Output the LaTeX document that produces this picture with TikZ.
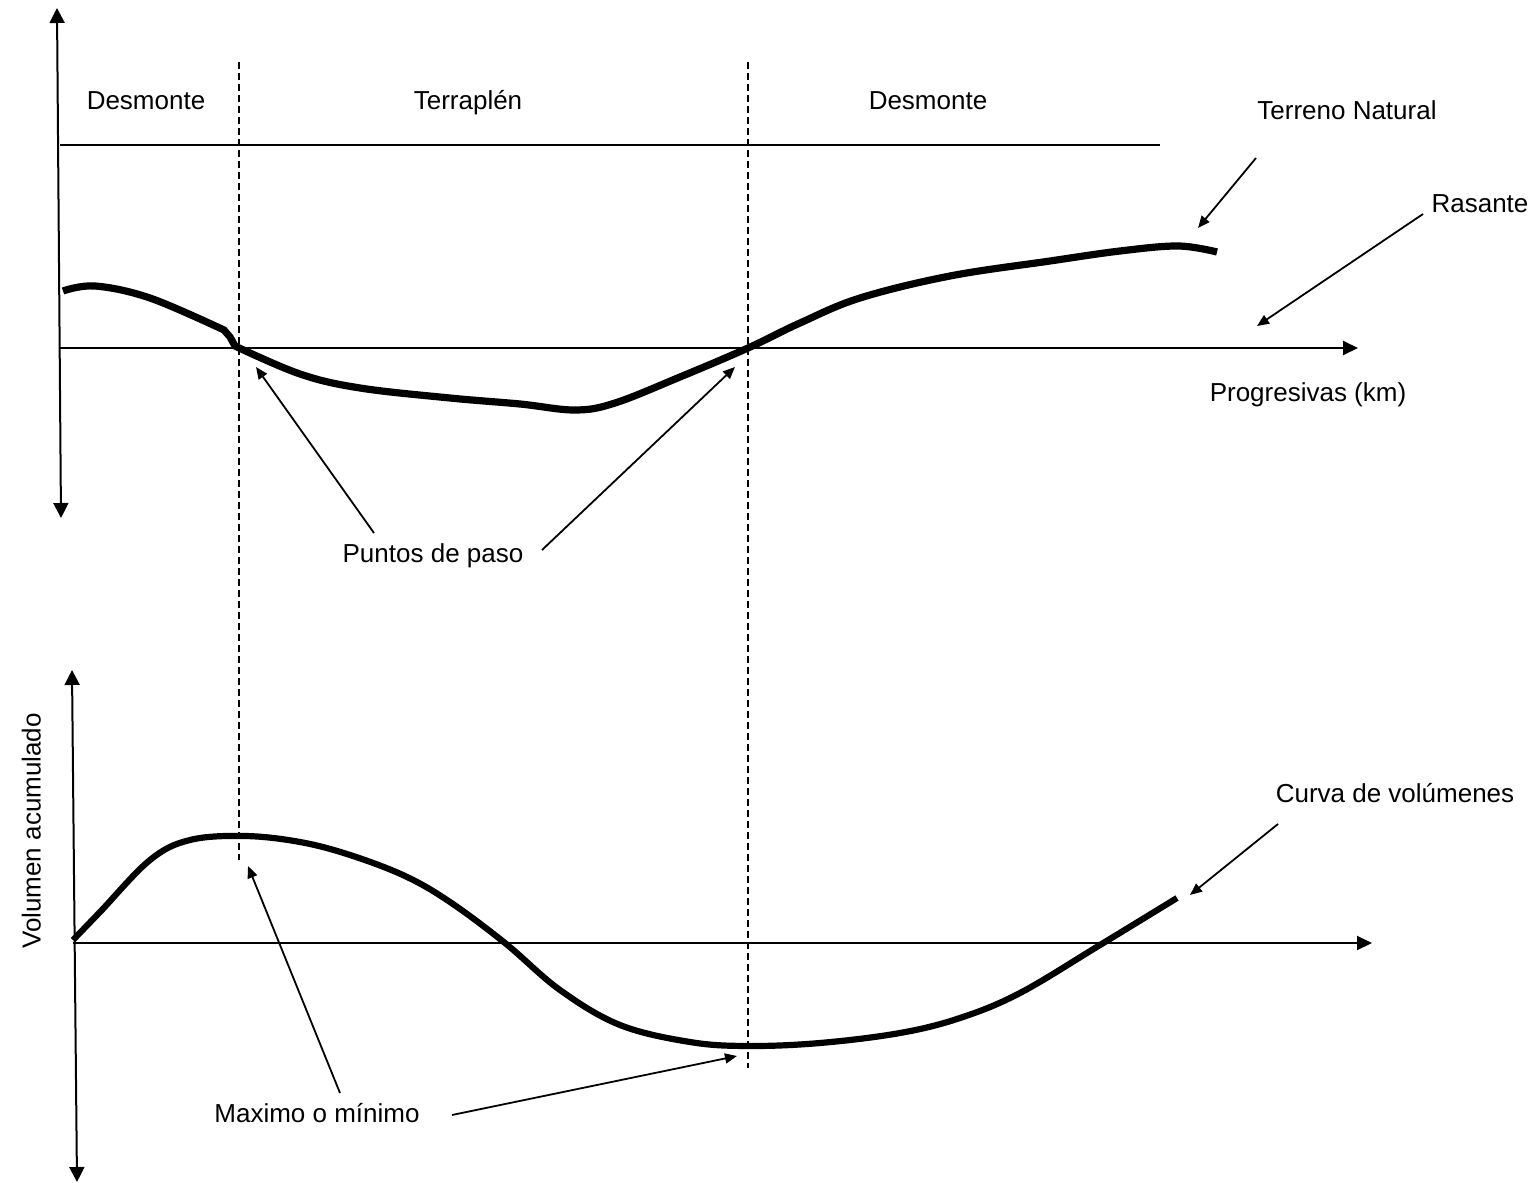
\documentclass[tikz,border=0pt]{standalone}
\usepackage{fontspec}
\setmainfont{Liberation Sans}
\usetikzlibrary{positioning}
\usetikzlibrary{arrows.meta}

\begin{document}
\begin{tikzpicture}[x=0.5pt, y=-0.5pt,
        every node/.style={inner sep=0pt, text height=9.5pt, text depth=0pt, font=\fontsize{13}{15}\selectfont},
        axis/.style={line width=1pt, {Triangle[length=7.5pt,width=7.5pt]}-{Triangle[length=7.5pt,width=7.5pt]}},
        baseaxis/.style={line width=1pt, -{Triangle[length=7.5pt,width=7pt]}},
        pointer/.style={line width=0.9pt, -{Triangle[length=6pt,width=5pt]}},
        guide/.style={line width=1pt, dash pattern=on 3.5pt off 2pt},
        ground/.style={line width=3.6pt},
        volume/.style={line width=3.1pt}]
    \useasboundingbox (0,0) rectangle (1539,1183);

    % perfil longitudinal
    \draw[axis] (61,518) -- (57,8);
    \draw[line width=1pt] (60,145) -- (1160,145);
    \coordinate (o1) at (60,348);
    \coordinate (x1) at (1358,348);
    \draw[baseaxis] (o1) -- (x1);
    \draw[guide] (239,62) -- (239,860);
    \draw[guide] (748,62) -- (748,1068);

    \node (des1) at (146,100) {Desmonte};
    \node (terr) at (468,100) {Terraplén};
    \node (des2) at (928,100) {Desmonte};
    \node (tn) at (1347,110) {Terreno Natural};
    \node (ras) at (1480,203) {Rasante};
    \node (prog) at (1308,392) {Progresivas (km)};
    \node (paso) at (433,553) {Puntos de paso};

    \draw[ground] plot[smooth, tension=0.6] coordinates {(63,291) (95,286) (150,298) (224,330)}
        -- (230,337)
        -- plot[smooth, tension=0.6] coordinates {(235,346) (300,374) (360,388) (450,398) (520,404)
            (575,410) (615,403) (680,377) (748,348) (800,323) (860,298) (950,276) (1050,261)
            (1120,251) (1178,246) (1217,252)};

    \coordinate (tnA) at (1256,158);
    \coordinate (tnB) at (1198,228);
    \coordinate (rasA) at (1423,214);
    \coordinate (rasB) at (1257,326);
    \coordinate (pasoA) at (374,533);
    \coordinate (pasoB) at (256,367);
    \coordinate (pasoC) at (542,550);
    \coordinate (pasoD) at (735,367);
    \draw[pointer] (tnA) -- (tnB);
    \draw[pointer] (rasA) -- (rasB);
    \draw[pointer] (pasoA) -- (pasoB);
    \draw[pointer] (pasoC) -- (pasoD);

    % diagrama de masas
    \draw[axis] (77,1182) -- (72,670);
    \coordinate (o2) at (73,943);
    \coordinate (x2) at (1372,943);
    \draw[baseaxis] (o2) -- (x2);
    \node[rotate=90] (vol) at (31,831) {Volumen acumulado};
    \node (curva) at (1395,793) {Curva de volúmenes};
    \node (maxmin) at (317,1113) {Maximo o mínimo};

    \draw[volume] plot[smooth, tension=0.6] coordinates {(73,940) (100,912) (150,860) (190,840)
        (245,836) (300,842) (350,855) (405,876) (450,902) (505,943) (560,990) (620,1025)
        (690,1042) (748,1046) (820,1043) (900,1033) (960,1018) (1020,993) (1100,945) (1177,898)};

    \coordinate (curA) at (1278,824);
    \coordinate (curB) at (1190,895);
    \coordinate (maxA) at (340,1093);
    \coordinate (maxB) at (248,866);
    \coordinate (minA) at (452,1115);
    \coordinate (minB) at (737,1056);
    \draw[pointer] (curA) -- (curB);
    \draw[pointer] (maxA) -- (maxB);
    \draw[pointer] (minA) -- (minB);
\end{tikzpicture}
\end{document}
